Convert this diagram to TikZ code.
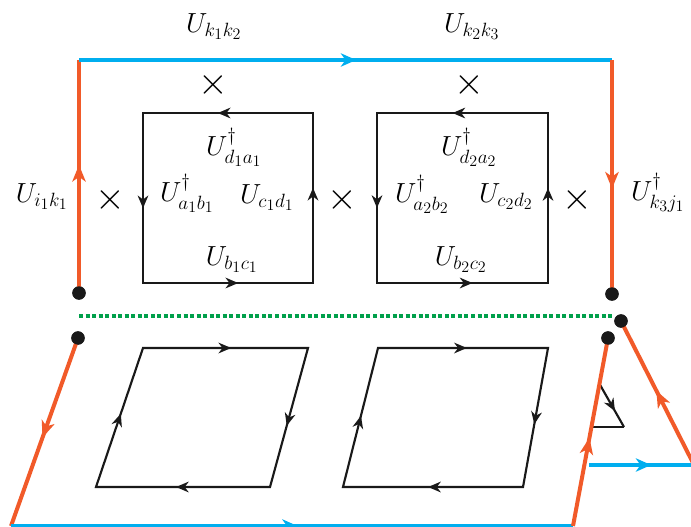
\documentclass[tikz,border=0pt]{standalone}
\usepackage{amsmath}
\usepackage{amssymb}
\usetikzlibrary{arrows.meta,decorations.markings}

\definecolor{wlorange}{RGB}{241,90,41}
\definecolor{wlblue}{RGB}{0,174,239}
\definecolor{wlgreen}{RGB}{0,160,75}

\tikzset{
  orangeline/.style={draw=wlorange,line width=3pt},
  blueline/.style={draw=wlblue,line width=2.4pt},
  plaqline/.style={draw=black!90,line width=1.6pt,line join=miter},
  greendots/.style={draw=wlgreen,line width=2.3pt,dash pattern=on 3pt off 1.9pt},
  orangemark/.style={postaction={decorate},decoration={markings,
    mark=at position #1 with {\arrow{Stealth[length=12.5pt,width=10pt,inset=3.5pt]}}}},
  bluemark/.style={postaction={decorate},decoration={markings,
    mark=at position #1 with {\arrow{Stealth[length=11.5pt,width=10pt,inset=3.5pt]}}}},
  blackmark/.style={postaction={decorate},decoration={markings,
    mark=at position #1 with {\arrow{Stealth[length=9.5pt,width=8pt,inset=3pt]}}}},
  plaqarrows/.style={postaction={decorate},decoration={markings,
    mark=at position 0.14 with {\arrow{Stealth[length=9.5pt,width=8pt,inset=3pt]}},
    mark=at position 0.39 with {\arrow{Stealth[length=9.5pt,width=8pt,inset=3pt]}},
    mark=at position 0.64 with {\arrow{Stealth[length=9.5pt,width=8pt,inset=3pt]}},
    mark=at position 0.89 with {\arrow{Stealth[length=9.5pt,width=8pt,inset=3pt]}}}},
  dot/.style={circle,fill=black!90,inner sep=0pt,minimum size=10pt},
  lbl/.style={font=\huge,inner sep=0pt,anchor=base},
  cross/.style={font=\Huge,inner sep=0pt},
}

\begin{document}
\begin{tikzpicture}[x=0.75pt,y=0.75pt,yscale=-1,xscale=1]
\useasboundingbox (0,0) rectangle (691,526);
\clip (0,0) rectangle (691,526);

% Corners
\coordinate (tl) at (79,60);
\coordinate (tr) at (612,60);
\coordinate (gl) at (79,316);
\coordinate (gr) at (613,316);
\coordinate (bl) at (11,526);
\coordinate (br) at (573,526);
\coordinate (rfar) at (725,526);
\coordinate (bq) at (589,465);
\coordinate (bqfar) at (700,465);
% Dots
\node[dot] (dA) at (79,293) {};
\node[dot] (dB) at (612,294) {};
\node[dot] (dC) at (621,321) {};
\node[dot] (dD) at (78,338) {};
\node[dot] (dE) at (608,338) {};

%Upper plaquettes
\coordinate (s1a) at (143,113); \coordinate (s1b) at (313,113);
\coordinate (s1c) at (313,283); \coordinate (s1d) at (143,283);
\coordinate (s2a) at (377,113); \coordinate (s2b) at (548,113);
\coordinate (s2c) at (548,283); \coordinate (s2d) at (377,283);
\draw[plaqline,plaqarrows] (s1b) -- (s1a) -- (s1d) -- (s1c) -- cycle;
\draw[plaqline,plaqarrows] (s2b) -- (s2a) -- (s2d) -- (s2c) -- cycle;

%Lower plaquettes
\coordinate (p1a) at (143,348); \coordinate (p1b) at (308,348);
\coordinate (p1c) at (270,487); \coordinate (p1d) at (96,487);
\coordinate (p2a) at (378,348); \coordinate (p2b) at (548,348);
\coordinate (p2c) at (523,487); \coordinate (p2d) at (343,487);
\draw[plaqline,plaqarrows] (p1a) -- (p1b) -- (p1c) -- (p1d) -- cycle;
\draw[plaqline,plaqarrows] (p2a) -- (p2b) -- (p2c) -- (p2d) -- cycle;

%Small corner triangle
\coordinate (ta) at (599,383);
\coordinate (tb) at (624,427);
\coordinate (tc) at (593,427);
\draw[plaqline,blackmark=0.64] (ta) -- (tb);
\draw[plaqline] (tb) -- (tc);

%Wilson line, upper part
\draw[orangeline,orangemark=0.55] (dA.center) -- (tl);
\draw[blueline,bluemark=0.52] (tl) -- (tr);
\draw[orangeline,orangemark=0.55] (tr) -- (dB.center);
\draw[greendots] (gl) -- (gr);

%Wilson line, lower part
\draw[orangeline,orangemark=0.53] (dD.center) -- (bl);
\draw[blueline,bluemark=0.51] (bl) -- (br);
\draw[orangeline,orangemark=0.47] (br) -- (dE.center);
\draw[orangeline,orangemark=0.66] (rfar) -- (dC.center);
\draw[blueline,bluemark=0.56] (bq) -- (bqfar);

% Dots on top
\foreach \d in {dA,dB,dC,dD,dE} \node[dot] at (\d) {};

% Text Node
\node[lbl] (lk12) at (214,32) {$U_{k_1k_2}$};
\node[lbl] (lk23) at (472,32) {$U_{k_2k_3}$};
\node[lbl] (lik) at (42,202) {$U_{i_1k_1}$};
\node[lbl] (lkj) at (658,200) {$U^{\dagger}_{k_3j_1}$};
\node[lbl] (ld1) at (234,155) {$U^{\dagger}_{d_1a_1}$};
\node[lbl] (la1) at (187,201) {$U^{\dagger}_{a_1b_1}$};
\node[lbl] (lc1) at (267,203) {$U_{c_1d_1}$};
\node[lbl] (lb1) at (232,265) {$U_{b_1c_1}$};
\node[lbl] (ld2) at (469,155) {$U^{\dagger}_{d_2a_2}$};
\node[lbl] (la2) at (422,202) {$U^{\dagger}_{a_2b_2}$};
\node[lbl] (lc2) at (506,202) {$U_{c_2d_2}$};
\node[lbl] (lb2) at (461,265) {$U_{b_2c_2}$};
% Crosses
\node[cross] (x1) at (213,85) {\scalebox{1.15}{$\times$}};
\node[cross] (x2) at (469,85) {\scalebox{1.15}{$\times$}};
\node[cross] (x3) at (110,200) {\scalebox{1.15}{$\times$}};
\node[cross] (x4) at (342,200) {\scalebox{1.15}{$\times$}};
\node[cross] (x5) at (577,200) {\scalebox{1.15}{$\times$}};
\end{tikzpicture}
\end{document}
